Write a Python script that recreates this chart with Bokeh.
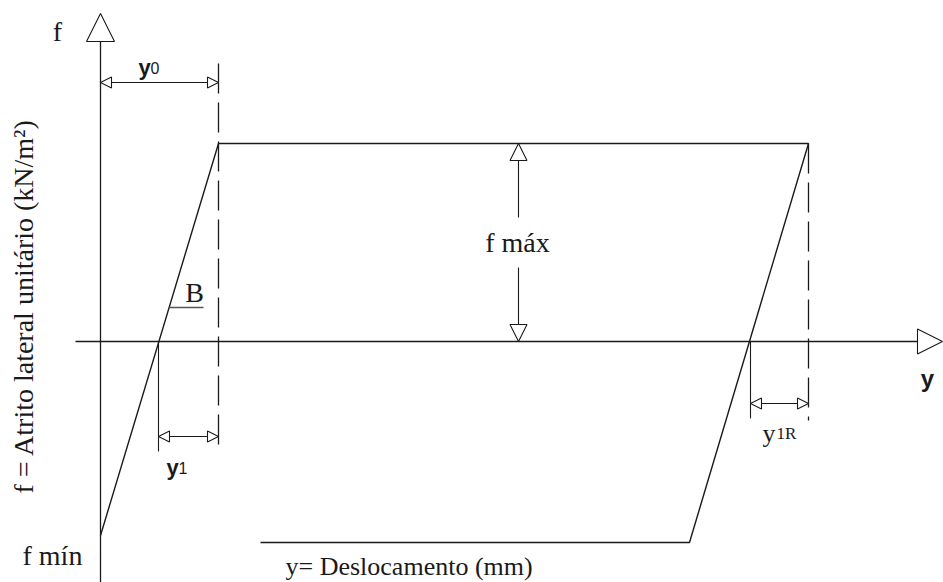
import math
from bokeh.plotting import figure
from bokeh.models import Range1d, Arrow, NormalHead
from bokeh.core.properties import value
from bokeh.embed import file_html
from bokeh.resources import INLINE

# ---------------- schematic values ----------------
# displacement y (mm, schematic units) and unit lateral friction f (kN/m², schematic units)
y0 = 11.8            # displacement needed to mobilise f max
y1 = 6.0             # elastic part of y0
y1R = 5.8            # elastic rebound on reversal
f_max = 19.8
f_min = -19.4
x_reversal = 70.8    # displacement at which load is reversed
x_lower = 58.9       # end of reversal ramp
f_lower = -20.1      # lower plateau
x_lower_end = 16.0   # lower plateau drawn back to here

path_disp = [0.0, y0, x_reversal, x_lower, x_lower_end]
path_fric = [f_min, f_max, f_max, f_lower, f_lower]

x_zero1 = y0 - y1
x_zero2 = x_reversal - y1R

ink = "#1a1a1a"
SERIF = "Liberation Serif"
SANS = "Liberation Sans"

W, H = 943, 582
p = figure(width=W, height=H,
           x_range=Range1d(-10.0, 84.3), y_range=Range1d(-24.1, 34.1),
           x_axis_type=None, y_axis_type=None,
           toolbar_location=None, output_backend="svg", min_border=0)
p.outline_line_color = None
p.background_fill_color = "white"
p.border_fill_color = "white"


def head(size):
    return NormalHead(size=size, fill_color="white", line_color=ink, line_width=1.1)


# axes with open triangular heads
ymin = p.y_range.start
xmax = p.x_range.end
p.add_layout(Arrow(end=head(28), x_start=0, y_start=ymin, x_end=0, y_end=f_max + 13.0,
                   line_color=ink, line_width=1.3))
p.add_layout(Arrow(end=head(25), x_start=-2.5, y_start=0, x_end=xmax - 0.1, y_end=0,
                   line_color=ink, line_width=1.3))

# load-displacement path
p.line(path_disp, path_fric, line_color=ink, line_width=1.4)

# dashed reference verticals
p.line([y0, y0], [f_max + 8.0, -11.0], line_color=ink, line_width=1.3, line_dash="30 9")
p.line([x_reversal, x_reversal], [f_max, -7.9], line_color=ink, line_width=1.3, line_dash="30 9")

# extension lines at the zero crossings
p.line([x_zero1, x_zero1], [0, -11.0], line_color=ink, line_width=1.1)
p.line([x_zero2, x_zero2], [0, -7.7], line_color=ink, line_width=1.1)

# dimension arrows
p.add_layout(Arrow(start=head(11), end=head(11), x_start=0, y_start=f_max + 6.1,
                   x_end=y0, y_end=f_max + 6.1, line_color=ink, line_width=1.1))
p.add_layout(Arrow(start=head(11), end=head(11), x_start=x_zero1, y_start=-9.5,
                   x_end=y0, y_end=-9.5, line_color=ink, line_width=1.1))
p.add_layout(Arrow(start=head(11), end=head(11), x_start=x_zero2, y_start=-6.2,
                   x_end=x_reversal, y_end=-6.2, line_color=ink, line_width=1.1))
x_fm = 41.8
p.add_layout(Arrow(end=head(17), x_start=x_fm, y_start=12.4, x_end=x_fm, y_end=f_max,
                   line_color=ink, line_width=1.1))
p.add_layout(Arrow(end=head(17), x_start=x_fm, y_start=7.4, x_end=x_fm, y_end=0,
                   line_color=ink, line_width=1.1))

# B leader
p.line([6.9, 10.3], [3.4, 3.4], line_color="#555555", line_width=1.3)


def lab(x, y, t, size, font=SERIF, style="normal", align="center", baseline="middle", angle=0.0):
    p.text(x=[x], y=[y], text=[t], text_font=value(font), text_font_size=f"{size}px",
           text_font_style=style, text_align=align, text_baseline=baseline,
           angle=angle, text_color=ink)


lab(-4.3, 31.0, "f", 28)
lab(3.8, 27.4, "y", 22, SANS, "bold", "left", "alphabetic")
lab(5.0, 27.4, "0", 16, SANS, "normal", "left", "alphabetic")
lab(9.4, 4.9, "B", 28)
lab(x_fm - 0.1, 9.9, "f máx", 28)
lab(6.6, -12.6, "y", 22, SANS, "bold", "left", "alphabetic")
lab(7.8, -12.6, "1", 16, SANS, "normal", "left", "alphabetic")
lab(66.2, -9.2, "y", 26, SERIF, "normal", "left", "alphabetic")
lab(67.6, -9.2, "1R", 17, SERIF, "normal", "left", "alphabetic")
lab(82.7, -3.7, "y", 24, SANS, "bold")
lab(-7.8, -21.4, "f mín", 28, align="left")
lab(18.5, -22.5, "y= Deslocamento (mm)", 26, align="left", baseline="alphabetic")
lab(-7.7, -15.2, "f = Atrito lateral unitário (kN/m²)", 28, align="left", angle=math.pi / 2)

open("out.html", "w").write(file_html(p, INLINE))
